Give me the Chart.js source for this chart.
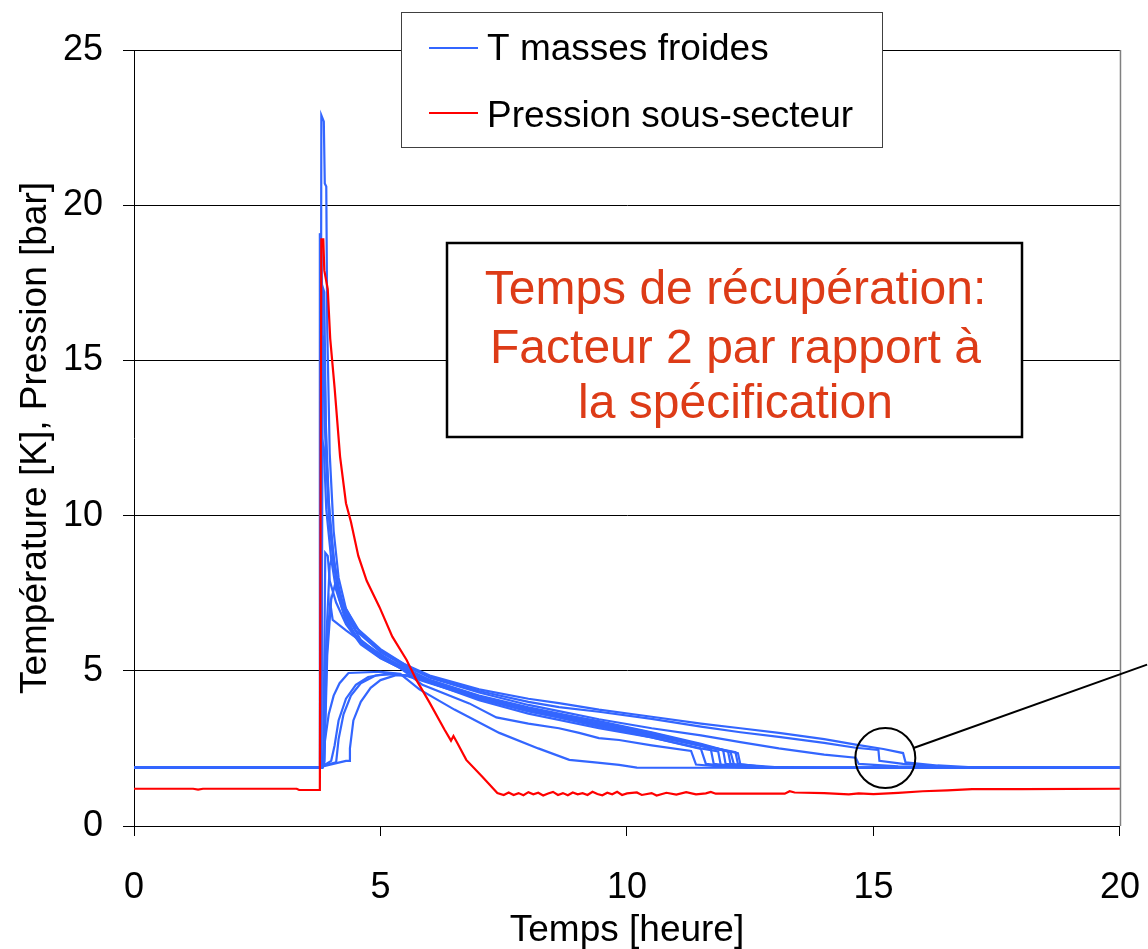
<!DOCTYPE html>
<html>
<head>
<meta charset="utf-8">
<script src="https://cdn.jsdelivr.net/npm/chart.js@4.4.0/dist/chart.umd.min.js"></script>
<style>
  html, body { margin: 0; padding: 0; background: #fff; overflow: hidden; }
  #wrap { width: 1148px; height: 949px; }
</style>
</head>
<body>
<div id="wrap"><canvas id="c" width="1148" height="949"></canvas></div>
<script>
// Temps [heure] / valeur pour chaque sonde des masses froides (K) et la pression (bar)
const pressionSousSecteur = [
  [0,1.2],[1.2,1.2],[1.3,1.17],[1.4,1.2],[3.3,1.2],[3.35,1.16],[3.77,1.16],[3.79,13.2],[3.8,18.9],
  [3.84,18.9],[3.86,17.9],[3.93,17.3],[3.98,15.7],[4.07,14.1],[4.18,11.9],[4.3,10.4],[4.4,9.8],
  [4.55,8.7],[4.72,7.9],[4.98,7.05],[5.24,6.1],[5.53,5.35],[5.73,4.7],[5.99,3.99],[6.3,3.1],
  [6.43,2.75],[6.48,2.9],[6.55,2.7],[6.74,2.13],[7.07,1.58],[7.37,1.06],[7.5,1.0],[7.6,1.08],
  [7.7,1.0],[7.8,1.06],[7.9,0.99],[8.0,1.09],[8.1,1.02],[8.2,1.07],[8.3,0.98],[8.4,1.05],[8.5,1.1],
  [8.6,1.0],[8.7,1.06],[8.8,0.99],[8.9,1.08],[9.0,1.02],[9.1,1.06],[9.2,1.0],[9.3,1.1],[9.4,1.03],
  [9.5,0.99],[9.6,1.07],[9.7,1.02],[9.8,1.1],[9.9,1.0],[10.0,1.05],[10.2,1.08],[10.3,1.0],[10.5,1.06],
  [10.6,0.98],[10.8,1.07],[11.0,1.01],[11.2,1.09],[11.4,1.02],[11.6,1.05],[11.7,1.1],[11.8,1.04],
  [13.2,1.04],[13.3,1.12],[13.4,1.08],[14.0,1.06],[14.2,1.04],[14.5,1.02],[14.7,1.05],[15.0,1.03],
  [15.5,1.07],[16.0,1.12],[16.5,1.15],[17.0,1.19],[18.0,1.19],[20.0,1.2]
];

const sondeL1 = [[0,1.87],[3.78,1.87],[3.8,22.9],[3.85,22.7],[3.87,20.7],[3.9,20.6],[3.92,16],[3.97,12],[4.05,9.5],[4.15,8.0],[4.3,7.0],[4.6,6.2],[5.0,5.65],[5.5,5.2],[6.0,4.85],[7.0,4.4],[8.0,4.1],[8.62,3.96],[9.43,3.75],[10.5,3.52],[11.5,3.3],[12.3,3.15],[13.08,3.0],[14.0,2.8],[14.64,2.62],[15.2,2.48],[15.6,2.35],[15.65,2.05],[16.3,1.95],[17.1,1.88],[20,1.87]];
const sondeL2 = [[0,1.87],[3.76,1.87],[3.77,19.1],[3.8,18.8],[3.83,15.5],[3.88,12.5],[3.95,10],[4.05,8.4],[4.2,7.2],[4.5,6.3],[5.0,5.6],[5.5,5.15],[6.0,4.8],[7.0,4.35],[8.0,4.0],[8.62,3.83],[9.43,3.68],[10.5,3.45],[11.5,3.2],[12.3,3.02],[13.08,2.87],[14.0,2.68],[14.64,2.52],[15.1,2.45],[15.12,2.1],[15.6,2.0],[16.5,1.9],[20,1.87]];
const sondeL3 = [[0,1.87],[3.8,1.87],[3.82,17.4],[3.86,17.2],[3.89,13],[3.95,10.5],[4.05,8.6],[4.2,7.3],[4.5,6.4],[5.0,5.7],[5.5,5.2],[6.0,4.78],[7.0,4.3],[8.0,3.9],[8.62,3.7],[9.43,3.44],[10.5,3.15],[11.5,2.92],[12.3,2.7],[13.08,2.5],[14.0,2.3],[14.64,2.2],[14.7,2.0],[15.5,1.92],[16.3,1.88],[20,1.87]];
const sondeM1 = [[0,1.87],[3.8,1.87],[3.83,15.8],[3.86,15.5],[3.9,12],[3.97,9.8],[4.1,8.0],[4.3,6.8],[4.6,6.0],[5.0,5.5],[5.5,5.1],[6.0,4.7],[7.0,4.2],[8.0,3.82],[8.62,3.62],[9.43,3.36],[10.5,3.0],[11.3,2.7],[11.7,2.48],[11.76,2.0],[12.3,1.9],[13.0,1.87],[20,1.87]];
const sondeM2 = [[0,1.87],[3.79,1.87],[3.81,12.5],[3.85,12.2],[3.9,10.2],[4.0,8.6],[4.1,7.6],[4.3,6.6],[4.6,5.9],[5.0,5.45],[5.5,5.05],[6.0,4.68],[7.0,4.15],[8.0,3.75],[8.62,3.56],[9.43,3.31],[10.5,2.98],[11.5,2.62],[12.1,2.38],[12.17,1.98],[12.8,1.9],[13.5,1.87],[20,1.87]];
const sondeM3 = [[0,1.87],[3.8,1.87],[3.84,2.0],[3.88,8.8],[3.93,8.7],[3.97,7.9],[4.1,7.2],[4.3,6.5],[4.6,5.85],[5.0,5.4],[5.5,5.02],[6.0,4.65],[7.0,4.12],[8.0,3.7],[8.62,3.5],[9.43,3.2],[10.5,2.9],[11.5,2.6],[12.25,2.35],[12.3,1.98],[13.0,1.9],[14.0,1.87],[20,1.87]];
const sondeM4 = [[0,1.87],[3.82,1.87],[3.86,2.1],[3.9,6.0],[3.97,8.4],[4.03,8.7],[4.08,8.3],[4.15,7.4],[4.3,6.6],[4.6,5.9],[5.0,5.42],[5.5,5.0],[6.0,4.62],[7.0,4.05],[8.0,3.62],[8.62,3.42],[9.43,3.15],[10.5,2.85],[11.5,2.5],[11.85,2.4],[11.9,1.98],[12.5,1.9],[13.2,1.87],[20,1.87]];
const sondeM5 = [[0,1.87],[3.82,1.87],[3.86,2.0],[3.92,5.5],[4.0,7.3],[4.08,7.8],[4.15,7.6],[4.25,6.9],[4.5,6.1],[5.0,5.45],[5.5,5.05],[6.0,4.7],[7.0,4.18],[8.0,3.8],[8.62,3.6],[9.43,3.38],[10.5,3.02],[11.5,2.65],[11.95,2.45],[12.0,2.0],[12.6,1.9],[13.5,1.87],[20,1.87]];
const sondeC  = [[0,1.87],[3.82,1.87],[3.85,2.0],[3.92,6.0],[3.98,7.2],[4.03,6.64],[4.3,6.3],[4.57,5.99],[5.18,5.35],[5.85,4.55],[6.8,3.95],[7.35,3.5],[8.0,3.3],[8.62,3.15],[9.03,3.0],[9.43,2.83],[9.84,2.77],[10.5,2.6],[11.3,2.42],[11.4,1.98],[12.0,1.9],[12.5,1.87],[20,1.87]];
const sondeB  = [[0,1.87],[3.78,1.87],[3.82,1.95],[3.86,2.6],[3.95,3.6],[4.05,4.2],[4.17,4.6],[4.35,4.93],[5.0,4.97],[5.4,4.9],[5.79,4.4],[6.5,3.75],[7.41,3.0],[8.2,2.5],[8.83,2.13],[9.4,2.04],[9.84,1.97],[10.2,1.88],[20,1.87]];
const sondeH2 = [[0,1.87],[3.8,1.87],[3.85,1.95],[4.0,2.1],[4.07,2.6],[4.15,3.4],[4.3,4.1],[4.5,4.55],[4.75,4.8],[5.1,4.9],[5.5,4.85],[6.0,4.6],[7.0,4.1],[8.0,3.72],[8.62,3.52],[9.43,3.26],[10.5,2.92],[11.5,2.58],[12.05,2.4],[12.1,2.0],[12.7,1.9],[13.4,1.87],[20,1.87]];
const sondeH3 = [[0,1.87],[3.8,1.87],[3.85,1.93],[4.3,2.1],[4.37,2.1],[4.38,2.5],[4.45,3.4],[4.6,4.0],[4.8,4.45],[5.0,4.7],[5.3,4.85],[5.6,4.85],[6.0,4.65],[7.0,4.1],[8.0,3.7],[8.62,3.5],[9.43,3.22],[10.5,2.85],[11.5,2.48],[11.6,2.0],[12.2,1.9],[13.0,1.87],[20,1.87]];
const sondeH4 = [[0,1.87],[3.8,1.87],[3.85,1.95],[4.1,2.05],[4.15,2.8],[4.25,3.6],[4.4,4.2],[4.6,4.6],[4.9,4.85],[5.3,4.9],[5.7,4.8],[6.0,4.62],[7.0,4.12],[8.0,3.74],[8.62,3.54],[9.43,3.28],[10.5,2.95],[11.5,2.6],[12.2,2.38],[12.25,2.0],[12.8,1.9],[13.6,1.87],[20,1.87]];

const sondesMassesFroides = [sondeL1, sondeL2, sondeL3, sondeM1, sondeM2, sondeM3, sondeM4, sondeM5, sondeC, sondeB, sondeH2, sondeH3, sondeH4];

const xTicks = [0, 5, 10, 15, 20];
const yTicks = [0, 5, 10, 15, 20, 25];

const legendLabels = ['T masses froides', 'Pression sous-secteur'];
const noteLines = ['Temps de récupération:', 'Facteur 2 par rapport à', 'la spécification'];
const axisTitles = { x: 'Temps [heure]', y: 'Température [K], Pression [bar]' };

const BLUE = '#3366ff';
const RED = '#ff0000';
const FONT = '"Liberation Sans", Arial, sans-serif';

const toXY = pts => pts.map(([x, y]) => ({ x, y }));

const datasets = sondesMassesFroides.map((pts, i) => ({
  label: i === 0 ? legendLabels[0] : '',
  data: toXY(pts),
  borderColor: BLUE,
  borderWidth: 2.2,
  pointRadius: 0,
  tension: 0,
  order: 2
}));
datasets.push({
  label: legendLabels[1],
  data: toXY(pressionSousSecteur),
  borderColor: RED,
  borderWidth: 2.2,
  pointRadius: 0,
  tension: 0,
  order: 1
});

// Zoom marker around the end of the slow recovery
const loupe = { x: 15.24, y: 2.19, r: 30, toX: 20.55, toY: 5.2 };

const decor = {
  id: 'decor',
  afterDatasetsDraw(chart) {
    const { ctx, chartArea: a, scales: { x, y } } = chart;
    ctx.save();

    // right edge of the plot frame
    ctx.strokeStyle = '#808080';
    ctx.lineWidth = 1.5;
    ctx.beginPath();
    ctx.moveTo(a.right + 0.5, a.top);
    ctx.lineTo(a.right + 0.5, a.bottom);
    ctx.stroke();

    // circle + leader line
    const cx = x.getPixelForValue(loupe.x), cy = y.getPixelForValue(loupe.y);
    ctx.strokeStyle = '#000';
    ctx.lineWidth = 2;
    ctx.beginPath();
    ctx.arc(cx, cy, loupe.r, 0, Math.PI * 2);
    ctx.stroke();
    const ex = x.getPixelForValue(loupe.toX), ey = y.getPixelForValue(loupe.toY);
    const d = Math.hypot(ex - cx, ey - cy);
    ctx.beginPath();
    ctx.moveTo(cx + (ex - cx) / d * loupe.r, cy + (ey - cy) / d * loupe.r);
    ctx.lineTo(ex, ey);
    ctx.stroke();

    // legend
    const lg = { l: 401, t: 12, w: 481, h: 135 };
    ctx.fillStyle = '#fff';
    ctx.fillRect(lg.l, lg.t, lg.w, lg.h);
    ctx.strokeStyle = '#404040';
    ctx.lineWidth = 1;
    ctx.strokeRect(lg.l + 0.5, lg.t + 0.5, lg.w, lg.h);
    ctx.font = '37px ' + FONT;
    ctx.textBaseline = 'alphabetic';
    ctx.textAlign = 'left';
    const rows = [{ c: BLUE, ly: 48, by: 60 }, { c: RED, ly: 113, by: 127 }];
    rows.forEach((r, i) => {
      ctx.strokeStyle = r.c;
      ctx.lineWidth = 2;
      ctx.beginPath();
      ctx.moveTo(429, r.ly);
      ctx.lineTo(478, r.ly);
      ctx.stroke();
      ctx.fillStyle = '#000';
      ctx.fillText(legendLabels[i], 487, r.by);
    });

    // note box
    const nb = { l: 447, t: 243, w: 575, h: 194 };
    ctx.fillStyle = '#fff';
    ctx.fillRect(nb.l, nb.t, nb.w, nb.h);
    ctx.strokeStyle = '#000';
    ctx.lineWidth = 2.5;
    ctx.strokeRect(nb.l, nb.t, nb.w, nb.h);
    ctx.fillStyle = '#dd3b17';
    ctx.font = '48px ' + FONT;
    ctx.textAlign = 'center';
    const baselines = [304, 363, 418];
    noteLines.forEach((s, i) => ctx.fillText(s, nb.l + nb.w / 2 + 1, baselines[i]));

    ctx.restore();
  }
};

new Chart(document.getElementById('c'), {
  type: 'line',
  data: { datasets },
  options: {
    responsive: false,
    animation: false,
    devicePixelRatio: 1,
    layout: { padding: { left: 0, right: 22, top: 50, bottom: 0 } },
    plugins: { legend: { display: false }, tooltip: { enabled: false } },
    scales: {
      x: {
        type: 'linear',
        min: 0, max: 20,
        afterFit: s => { s.height = 123; },
        afterBuildTicks: s => { s.ticks = xTicks.map(v => ({ value: v })); },
        grid: { drawOnChartArea: false, color: '#000', tickLength: 10, lineWidth: 1 },
        border: { display: true, color: '#000', width: 1 },
        ticks: { color: '#000', font: { family: FONT, size: 36, lineHeight: 2.45 }, padding: 8, maxRotation: 0 },
        title: { display: true, text: axisTitles.x, color: '#000', font: { family: FONT, size: 37, lineHeight: 1 }, padding: { top: 0, bottom: 0 } }
      },
      y: {
        type: 'linear',
        min: 0, max: 25,
        afterFit: s => { s.width = 134; },
        afterBuildTicks: s => { s.ticks = yTicks.map(v => ({ value: v })); },
        grid: { color: '#000', tickLength: 11, lineWidth: 1 },
        border: { display: true, color: '#000', width: 1 },
        ticks: { color: '#000', font: { family: FONT, size: 36 }, padding: 20 },
        title: { display: true, text: axisTitles.y, color: '#000', font: { family: FONT, size: 37 }, padding: { top: 14, bottom: 0 } }
      }
    }
  },
  plugins: [decor]
});
</script>
</body>
</html>
